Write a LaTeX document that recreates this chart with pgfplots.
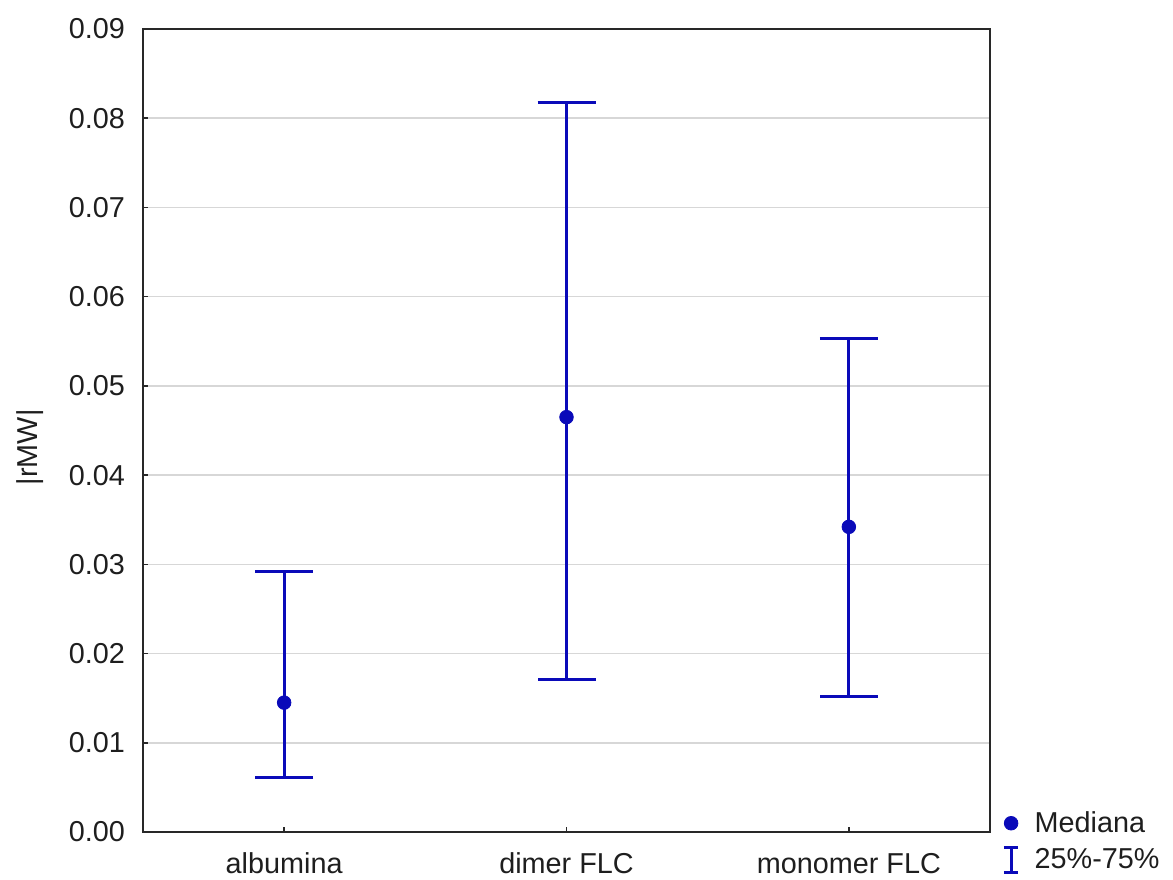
\documentclass[border=0pt]{standalone}
\usepackage{pgfplots}
\pgfplotsset{compat=1.18}
\usepackage{pgfplotstable}
\usepackage{fontspec}
\setmainfont{Liberation Sans}

\definecolor{statblue}{RGB}{10,10,185}
\definecolor{gridgray}{RGB}{215,215,215}
\definecolor{axisgray}{RGB}{40,40,40}
\definecolor{labelgray}{RGB}{30,30,30}

% median and interquartile range (25%-75%) of |rMW| per fraction
\pgfplotstableread{
x  med     lo      hi
0  0.0145  0.0061  0.0292
1  0.0465  0.0171  0.0818
2  0.0342  0.0152  0.0553
}\rmwdata

\begin{document}
\begin{tikzpicture}[x=1pt,y=1pt]
\useasboundingbox (-71.5,-23.5) rectangle (515,416);
\begin{axis}[
  at={(0,0)}, anchor=south west,
  scale only axis,
  width=423.5pt, height=401.5pt,
  xmin=-0.5, xmax=2.5,
  ymin=0, ymax=0.09,
  xtick={0,1,2},
  xticklabels={albumina, dimer FLC, monomer FLC},
  ytick={0,0.01,...,0.09},
  scaled y ticks=false,
  /pgf/number format/fixed,
  /pgf/number format/fixed zerofill,
  /pgf/number format/precision=2,
  /pgf/number format/assume math mode=true,
  tick label style={font=\fontsize{14.4}{17}\selectfont, text=labelgray},
  yticklabel style={xshift=-5.5pt},
  xticklabel style={yshift=-7pt},
  xtick pos=bottom, ytick pos=left,
  tick align=inside,
  major tick length=2.5pt,
  tick style={axisgray, line width=0.8pt},
  axis line style={axisgray, line width=1pt},
  ymajorgrids,
  major grid style={gridgray, line width=0.8pt},
  ylabel={|rMW|},
  ylabel style={font=\fontsize{14.4}{17}\selectfont, text=labelgray,
    at={(axis description cs:-0.1334,0.479)}, anchor=center},
  legend style={
    at={(axis description cs:1.0143,0.03)}, anchor=north west,
    draw=none, fill=none,
    font=\fontsize{14.4}{17}\selectfont, text=labelgray,
    row sep=3.5pt, inner sep=0pt,
    nodes={inner sep=1.5pt},
    /tikz/every odd column/.style={column sep=6pt},
  },
  legend cell align=left,
  clip=false,
]
\addplot[
  only marks,
  mark=*,
  mark size=3.4pt,
  mark options={fill=statblue, draw=statblue},
  error bars/.cd,
    y dir=both, y explicit,
    error bar style={statblue, line width=1.6pt},
    error mark options={statblue, line width=1.6pt, mark size=14.5pt, rotate=90},
] table[x=x, y=med,
  y error plus expr=\thisrow{hi}-\thisrow{med},
  y error minus expr=\thisrow{med}-\thisrow{lo}] {\rmwdata};
\addlegendentry{Mediana}
\addlegendimage{legend image code/.code={
  \draw[statblue, line width=1.4pt]
    (0.3cm,-6.2pt) -- (0.3cm,6.2pt)
    (0.3cm-3.6pt,-6.2pt) -- (0.3cm+3.6pt,-6.2pt)
    (0.3cm-3.6pt,6.2pt) -- (0.3cm+3.6pt,6.2pt);}}
\addlegendentry{25\%-75\%}
\end{axis}
\end{tikzpicture}
\end{document}
